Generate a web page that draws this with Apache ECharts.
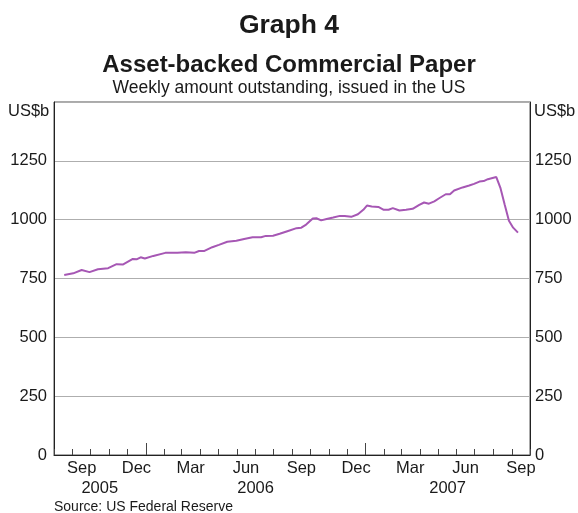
<!DOCTYPE html>
<html>
<head>
<meta charset="utf-8">
<script src="https://cdn.jsdelivr.net/npm/echarts@6/dist/echarts.min.js"></script>
<style>
    html, body { margin: 0; padding: 0; background: #fff; }
    #chart { width: 578px; height: 513px; }
</style>
</head>
<body>
<div id="chart"></div>
<script>
// weekly amount outstanding, US$b
var dates = [
    '2005-08-18', '2005-09-02', '2005-09-16', '2005-09-29', '2005-10-13', '2005-10-30',
    '2005-11-13', '2005-11-24', '2005-12-10', '2005-12-17', '2005-12-23', '2005-12-30',
    '2006-01-13', '2006-02-02', '2006-02-22', '2006-03-08', '2006-03-22', '2006-03-30',
    '2006-04-08', '2006-04-21', '2006-05-02', '2006-05-16', '2006-05-31', '2006-06-13',
    '2006-06-27', '2006-07-11', '2006-07-19', '2006-07-31', '2006-08-11', '2006-08-25',
    '2006-09-08', '2006-09-16', '2006-09-24', '2006-10-05', '2006-10-11', '2006-10-19',
    '2006-10-28', '2006-11-08', '2006-11-19', '2006-11-27', '2006-12-08', '2006-12-19',
    '2006-12-28', '2007-01-03', '2007-01-11', '2007-01-22', '2007-01-31', '2007-02-08',
    '2007-02-15', '2007-02-26', '2007-03-09', '2007-03-20', '2007-03-31', '2007-04-08',
    '2007-04-16', '2007-04-25', '2007-05-03', '2007-05-14', '2007-05-21', '2007-05-28',
    '2007-06-11', '2007-06-22', '2007-06-30', '2007-07-09', '2007-07-16', '2007-07-23',
    '2007-08-06', '2007-08-13', '2007-08-20', '2007-08-27', '2007-09-03', '2007-09-11'
];
var amounts = [
    765, 772, 786, 777, 789, 794,
    811, 810, 833, 832, 840, 835,
    846, 859, 859, 862, 859, 867,
    867, 883, 893, 906, 910, 918,
    925, 925, 931, 932, 940, 952,
    964, 966, 979, 1005, 1006, 997,
    1003, 1009, 1016, 1016, 1012, 1023,
    1042, 1060, 1056, 1054, 1042, 1042,
    1049, 1039, 1042, 1046, 1063, 1073,
    1068, 1078, 1091, 1108, 1108, 1124,
    1137, 1145, 1152, 1162, 1164, 1172,
    1181, 1134, 1063, 995, 966, 945
];
var MONTHS = ['Jan', 'Feb', 'Mar', 'Apr', 'May', 'Jun', 'Jul', 'Aug', 'Sep', 'Oct', 'Nov', 'Dec'];
// axis span and tick marks
var axisStart = '2005-08-01', axisEnd = '2007-10-01';
var monthLabels = ['2005-09-16', '2005-12-16', '2006-03-16', '2006-06-16', '2006-09-16',
    '2006-12-16', '2007-03-16', '2007-06-16', '2007-09-16'];
var yearBreaks = ['2006-01-01', '2007-01-01'];
var yearLabels = [
    { at: '2005-10-16', text: '2005' },
    { at: '2006-07-02', text: '2006' },
    { at: '2007-05-17', text: '2007' }
];

function ts(s) {
    var p = s.split('-');
    return Date.UTC(+p[0], +p[1] - 1, +p[2]);
}
//month starts for the small ticks
var monthTicks = [];
(function () {
    var d = new Date(ts(axisStart)), end = ts(axisEnd);
    while (d.getTime() <= end) {
        monthTicks.push(d.getTime());
        d.setUTCMonth(d.getUTCMonth() + 1);
    }
})();

var FONT = '"Liberation Sans", Arial, sans-serif';
var TXT = '#1a1a1a';
var seriesData = dates.map(function (d, i) { return [ts(d), amounts[i]]; });
var yearNames = {};
yearLabels.forEach(function (y) { yearNames[ts(y.at)] = y.text; });

var chart = echarts.init(document.getElementById('chart'), null, { renderer: 'canvas' });
var option = {
    animation: false,
    backgroundColor: '#fff',
    textStyle: { fontFamily: FONT },
    grid: {
        left: 54, right: 48, top: 102, bottom: 58,
        show: true, borderColor: '#555', borderWidth: 1, backgroundColor: 'transparent'
    },
    graphic: [
        { type: 'text', left: 'center', top: 12, style: { text: 'Graph 4', font: 'bold 26.5px ' + FONT, fill: TXT } },
        { type: 'text', left: 'center', top: 53, style: { text: 'Asset-backed Commercial Paper', font: 'bold 24px ' + FONT, fill: TXT } },
        { type: 'text', left: 'center', top: 79, style: { text: 'Weekly amount outstanding, issued in the US', font: '17.5px ' + FONT, fill: TXT } },
        { type: 'text', left: 8, top: 103, style: { text: 'US$b', font: '16.5px ' + FONT, fill: TXT } },
        { type: 'text', left: 534, top: 103, style: { text: 'US$b', font: '16.5px ' + FONT, fill: TXT } },
        { type: 'text', left: 54, top: 500, style: { text: 'Source: US Federal Reserve', font: '14px ' + FONT, fill: TXT } }
    ],
    xAxis: [
        {
            type: 'value',
            min: ts(axisStart), max: ts(axisEnd),
            axisLine: { show: true, lineStyle: { color: '#222', width: 1 } },
            axisTick: { show: true, inside: true, length: 6, customValues: monthTicks, lineStyle: { color: '#444' } },
            axisLabel: {
                customValues: monthLabels.map(ts), margin: 5, fontSize: 16.5, color: TXT, fontFamily: FONT,
                formatter: function (v) { return MONTHS[new Date(v).getUTCMonth()]; }
            },
            splitLine: { show: false }
        },
        {
            type: 'value',
            min: ts(axisStart), max: ts(axisEnd),
            position: 'bottom',
            axisLine: { show: false },
            axisTick: { show: true, inside: true, length: 12, customValues: yearBreaks.map(ts), lineStyle: { color: '#444' } },
            axisLabel: {
                customValues: yearLabels.map(function (y) { return ts(y.at); }), margin: 25, fontSize: 16.5, color: TXT, fontFamily: FONT,
                formatter: function (v) { return yearNames[v] || ''; }
            },
            splitLine: { show: false }
        }
    ],
    yAxis: [
        {
            type: 'value', position: 'left', min: 0, max: 1500, interval: 250,
            axisLine: { show: true, lineStyle: { color: '#222' } },
            axisTick: { show: false },
            axisLabel: {
                margin: 7, fontSize: 16.5, color: TXT, fontFamily: FONT,
                formatter: function (v) { return v === 1500 ? '' : String(v); }
            },
            splitLine: { show: true, lineStyle: { color: '#aeaeae', width: 1 } }
        },
        {
            type: 'value', position: 'right', min: 0, max: 1500, interval: 250,
            axisLine: { show: true, lineStyle: { color: '#222' } },
            axisTick: { show: false },
            axisLabel: {
                margin: 5, fontSize: 16.5, color: TXT, fontFamily: FONT,
                formatter: function (v) { return v === 1500 ? '' : String(v); }
            },
            splitLine: { show: false }
        }
    ],
    series: [
        {
            type: 'line',
            xAxisIndex: 0,
            yAxisIndex: 0,
            data: seriesData,
            showSymbol: false,
            lineStyle: { color: '#a657b4', width: 2 },
            itemStyle: { color: '#a657b4' }
        }
    ]
};
chart.setOption(option);
</script>
</body>
</html>
